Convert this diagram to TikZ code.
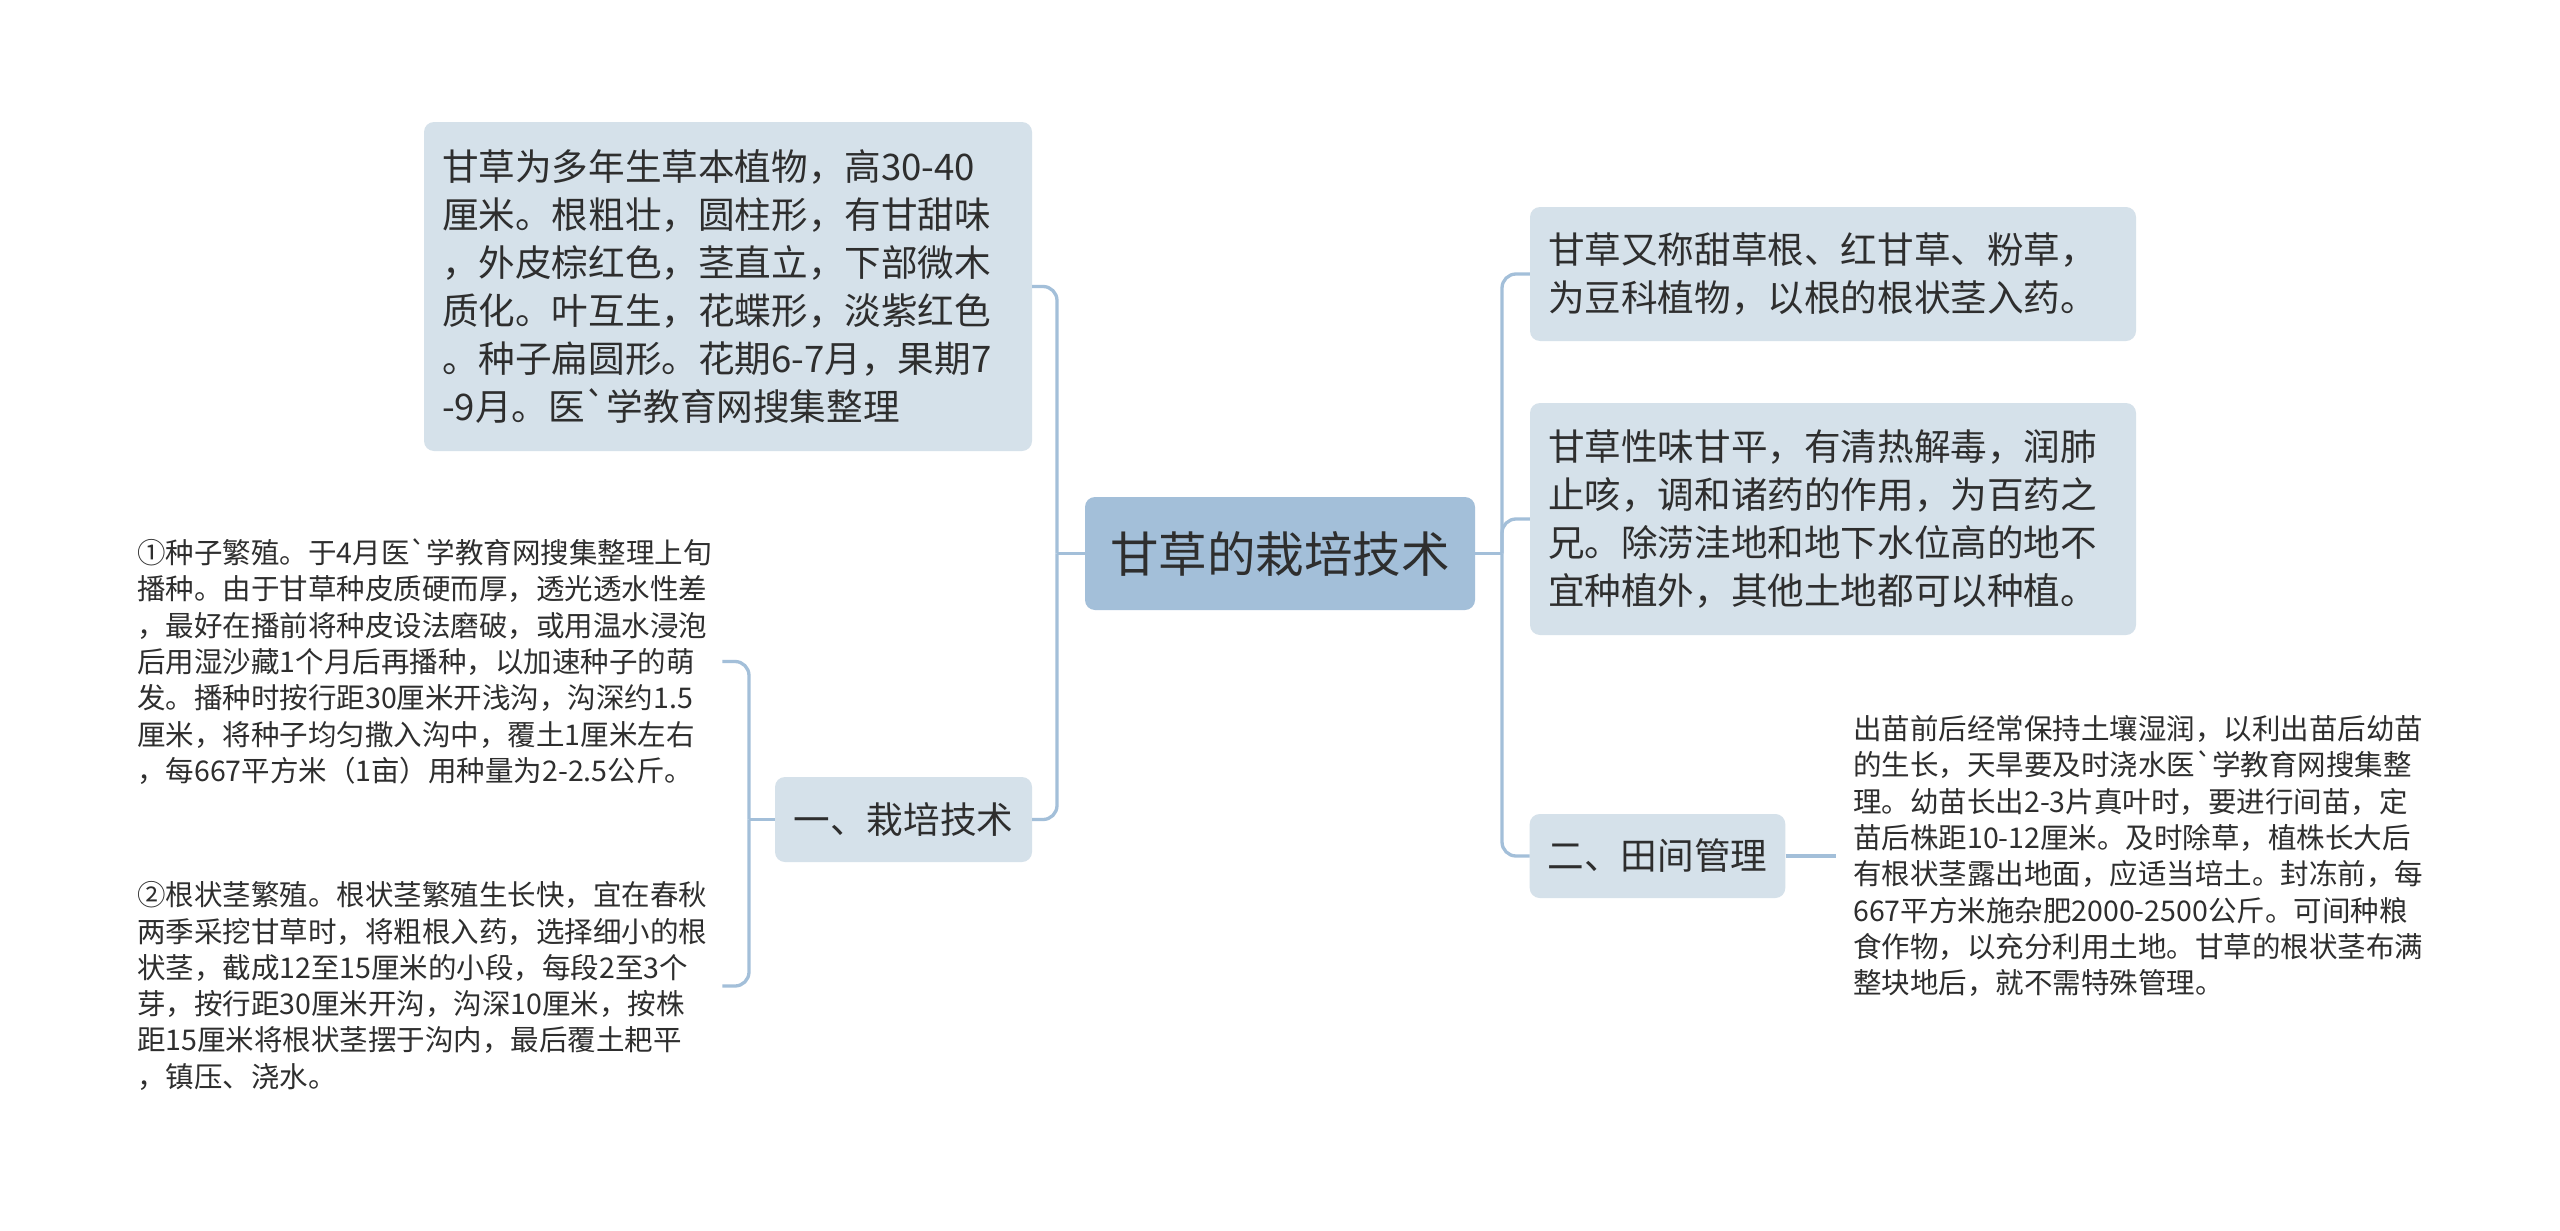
\documentclass[tikz,border=0pt]{standalone}
\usepackage{fontspec}
\setmainfont{Noto Sans CJK SC}
\setmonofont{Noto Sans CJK SC}
\definecolor{mainfill}{HTML}{A3BFD9}
\definecolor{subfill}{HTML}{D5E1EA}
\definecolor{linecol}{HTML}{A3BFD9}
\definecolor{txt}{HTML}{2E2E2E}
\newcommand{\bq}{{\ttfamily\symbol{96}}}
\begin{document}
\begin{tikzpicture}[x=1pt,y=-1pt,
  every node/.style={text=txt},
  mainnode/.style={fill=mainfill, rounded corners=10pt, minimum width=390pt, minimum height=113pt, font=\fontsize{48.5}{60}\selectfont, inner sep=0pt},
  subbox/.style={fill=subfill, rounded corners=10pt, inner xsep=18pt, inner ysep=0pt, align=left, font=\fontsize{36.6}{48}\selectfont},
  plaintext/.style={inner xsep=0pt, inner ysep=0pt, align=left, font=\fontsize{28.5}{36.3}\selectfont},
  conn/.style={draw=linecol, line width=3.3pt, rounded corners=14pt},
]
\fill[white] (0,0) rectangle (2560,1231);
\useasboundingbox (0,0) rectangle (2560,1231);

\node[mainnode] (c) at (1280,553.5) {甘草的栽培技术};

\node[subbox, text width=572pt, minimum height=329pt] (tl) at (728,286.5) {甘草为多年生草本植物，高30-40\\厘米。根粗壮，圆柱形，有甘甜味\\，外皮棕红色，茎直立，下部微木\\质化。叶互生，花蝶形，淡紫红色\\。种子扁圆形。花期6-7月，果期7\\-9月。医\bq 学教育网搜集整理};

\node[subbox, minimum width=257pt, minimum height=85pt, align=center] (b1) at (903.5,819.5) {一、栽培技术};

\node[plaintext, text width=585pt, anchor=west] (t1) at (137,661.5) {①种子繁殖。于4月医\bq 学教育网搜集整理上旬\\播种。由于甘草种皮质硬而厚，透光透水性差\\，最好在播前将种皮设法磨破，或用温水浸泡\\后用湿沙藏1个月后再播种，以加速种子的萌\\发。播种时按行距30厘米开浅沟，沟深约1.5\\厘米，将种子均匀撒入沟中，覆土1厘米左右\\，每667平方米（1亩）用种量为2-2.5公斤。};

\node[plaintext, text width=585pt, anchor=west] (t2) at (137,986) {②根状茎繁殖。根状茎繁殖生长快，宜在春秋\\两季采挖甘草时，将粗根入药，选择细小的根\\状茎，截成12至15厘米的小段，每段2至3个\\芽，按行距30厘米开沟，沟深10厘米，按株\\距15厘米将根状茎摆于沟内，最后覆土耙平\\，镇压、浇水。};

\node[subbox, text width=570pt, minimum height=134pt] (r1) at (1833,274) {甘草又称甜草根、红甘草、粉草，\\为豆科植物，以根的根状茎入药。};

\node[subbox, text width=570pt, minimum height=232pt] (r2) at (1833,519) {甘草性味甘平，有清热解毒，润肺\\止咳，调和诸药的作用，为百药之\\兄。除涝洼地和地下水位高的地不\\宜种植外，其他土地都可以种植。};

\node[subbox, minimum width=255pt, minimum height=84pt, align=center] (b2) at (1657.5,856) {二、田间管理};

\node[plaintext, inner xsep=17pt, text width=580pt, anchor=west] (t3) at (1836,856) {出苗前后经常保持土壤湿润，以利出苗后幼苗\\的生长，天旱要及时浇水医\bq 学教育网搜集整\\理。幼苗长出2-3片真叶时，要进行间苗，定\\苗后株距10-12厘米。及时除草，植株长大后\\有根状茎露出地面，应适当培土。封冻前，每\\667平方米施杂肥2000-2500公斤。可间种粮\\食作物，以充分利用土地。甘草的根状茎布满\\整块地后，就不需特殊管理。};

\coordinate (lj) at (1057,553.5);
\coordinate (rj) at (1502,553.5);
\coordinate (bj) at (749,819.5);

\draw[conn] (c.west) -- (lj);
\draw[conn] (lj) |- (tl.east);
\draw[conn] (lj) |- (b1.east);
\draw[conn] (c.east) -- (rj);
\draw[conn] (rj) |- (r1.west);
\draw[conn] (rj) |- (r2.west);
\draw[conn] (rj) |- (b2.west);
\draw[conn] (b1.west) -- (bj);
\draw[conn] (bj) |- (t1.east);
\draw[conn] (bj) |- (t2.east);
\draw[conn] (b2.east) -- (t3.west);
\end{tikzpicture}
\end{document}
